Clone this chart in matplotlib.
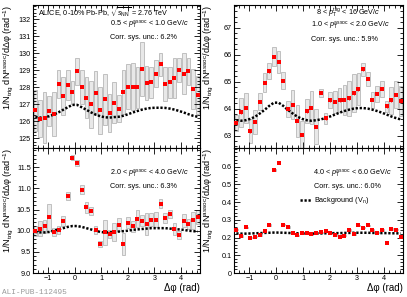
import numpy as np
import matplotlib
matplotlib.use("Agg")
import matplotlib.pyplot as plt
from matplotlib.patches import Rectangle
from matplotlib.ticker import MultipleLocator

plt.rcParams['font.family'] = ['Liberation Sans', 'DejaVu Sans']
plt.rcParams['mathtext.fontset'] = 'custom'
plt.rcParams['mathtext.rm'] = 'Liberation Sans'
plt.rcParams['mathtext.it'] = 'Liberation Sans:italic'
plt.rcParams['mathtext.bf'] = 'Liberation Sans:bold'

# 36 bins in delta phi, -pi/2 .. 3pi/2
nbins = 36
dphi = -np.pi / 2 + (np.arange(nbins) + 0.5) * 2 * np.pi / nbins

# top left: 0.5 < pT assoc < 1.0
tl_y = [126.65, 126.15, 126.2, 126.6, 126.45, 128.2, 127.5, 128.15, 127.7, 128.95,
        128.0, 127.4, 127.0, 127.65, 126.65, 127.3, 126.5, 127.1, 126.75, 127.75,
        128.05, 128.05, 128.0, 129.1, 128.25, 128.3, 128.8, 129.35, 128.2, 128.3,
        128.55, 129.0, 128.8, 128.95, 127.9, 127.55]
tl_sys = [1.2, 1.1, 1.5, 0.9, 1.3, 0.8, 1.1, 0.9, 0.7, 0.8, 1.0, 1.2, 1.4, 1.3, 1.4, 1.5,
          1.1, 1.2, 0.8, 1.3, 1.3, 1.4, 1.2, 1.6, 1.0, 0.9, 0.8, 0.7, 1.0, 0.9, 1.2, 0.7,
          1.2, 0.8, 1.2, 1.1]
tl_bkg = [126.25, 126.22, 126.24, 126.3, 126.4, 126.53, 126.68, 126.83, 126.97, 126.97,
          126.83, 126.68, 126.53, 126.4, 126.3, 126.24, 126.22, 126.25, 126.27, 126.33,
          126.42, 126.52, 126.61, 126.69, 126.75, 126.79, 126.8, 126.8, 126.79, 126.75,
          126.69, 126.61, 126.52, 126.42, 126.33, 126.27]

# top right: 1.0 < pT assoc < 2.0
tr_y = [63.47, 63.86, 64.02, 63.16, 63.5, 64.26, 64.96, 65.38, 65.93, 65.73,
        65.04, 64.0, 64.15, 63.55, 63.03, 63.9, 64.04, 63.32, 64.59, 63.64,
        64.31, 64.24, 64.31, 64.33, 64.38, 64.57, 64.72, 65.45, 65.1, 64.33,
        64.55, 64.73, 64.08, 64.31, 64.51, 64.27]
tr_sys = [0.3, 0.55, 0.55, 0.45, 0.45, 0.3, 0.35, 0.3, 0.35, 0.4, 0.3, 0.3, 0.55, 0.6,
          0.5, 0.45, 0.6, 0.65, 0.15, 0.2, 0.3, 0.4, 0.45, 0.55, 0.65, 0.7, 0.6, 0.25,
          0.25, 0.3, 0.3, 0.3, 0.2, 0.5, 0.5, 0.55]
tr_bkg = [63.57, 63.55, 63.57, 63.62, 63.7, 63.82, 63.95, 64.1, 64.22, 64.22,
          64.1, 63.95, 63.82, 63.7, 63.62, 63.57, 63.55, 63.57, 63.6, 63.65,
          63.71, 63.78, 63.85, 63.91, 63.96, 64.0, 64.02, 64.02, 64.0, 63.96,
          63.91, 63.85, 63.78, 63.71, 63.65, 63.6]

# bottom left: 2.0 < pT assoc < 4.0
bl_y = [10.0, 10.05, 10.1, 10.32, 9.97, 10.02, 10.23, 10.82, 11.72, 11.6,
        10.97, 10.55, 10.46, 10.02, 9.68, 9.96, 9.92, 9.97, 10.14, 9.69,
        10.19, 10.1, 10.28, 10.24, 10.16, 10.26, 10.26, 10.64, 10.3, 10.4,
        10.04, 9.9, 10.24, 10.15, 10.25, 10.33]
bl_sys = [0.12, 0.17, 0.15, 0.32, 0.1, 0.1, 0.12, 0.1, 0.06, 0.07, 0.1, 0.12, 0.1, 0.1,
          0.07, 0.3, 0.1, 0.22, 0.15, 0.26, 0.13, 0.12, 0.2, 0.13, 0.25, 0.15, 0.18, 0.1,
          0.12, 0.1, 0.15, 0.1, 0.15, 0.12, 0.2, 0.17]
bl_bkg = [9.97, 9.96, 9.96, 9.97, 10.0, 10.03, 10.06, 10.09, 10.11, 10.11,
          10.09, 10.06, 10.03, 10.0, 9.97, 9.96, 9.96, 9.97, 9.98, 9.99,
          10.0, 10.02, 10.03, 10.04, 10.05, 10.06, 10.06, 10.06, 10.06, 10.05,
          10.04, 10.03, 10.02, 10.0, 9.99, 9.98]

# bottom right: 4.0 < pT assoc < 6.0
br_y = [0.245, 0.208, 0.258, 0.2, 0.205, 0.215, 0.238, 0.27, 0.58, 0.62,
        0.273, 0.26, 0.225, 0.212, 0.228, 0.228, 0.22, 0.225, 0.23, 0.235,
        0.228, 0.215, 0.205, 0.21, 0.243, 0.218, 0.268, 0.255, 0.268, 0.242,
        0.228, 0.242, 0.172, 0.248, 0.245, 0.203]
br_sys = [0.004] * nbins
br_bkg = [0.223, 0.222, 0.222, 0.223, 0.224, 0.225, 0.226, 0.227, 0.228, 0.228,
          0.227, 0.226, 0.225, 0.224, 0.223, 0.222, 0.222, 0.223, 0.223, 0.224,
          0.224, 0.225, 0.225, 0.226, 0.226, 0.227, 0.227, 0.227, 0.227, 0.226,
          0.226, 0.225, 0.225, 0.224, 0.224, 0.223]

stat_err = [0.06, 0.05, 0.02, 0.003]

panels = [
    (tl_y, tl_sys, tl_bkg, (124.43, 132.85), 1, 0.2, stat_err[0]),
    (tr_y, tr_sys, tr_bkg, (62.54, 67.84), 1, 0.2, stat_err[1]),
    (bl_y, bl_sys, bl_bkg, (9.0, 11.955), 0.5, 0.1, stat_err[2]),
    (br_y, br_sys, br_bkg, (0.0, 0.705), 0.1, 0.02, stat_err[3]),
]

W, H = 407, 297
fig = plt.figure(figsize=(W / 100, H / 100), dpi=100)
boxes = [(33, 200, 5, 148), (234, 403, 5, 148), (33, 200, 148, 273), (234, 403, 148, 273)]
axes = []
for (l, r, t, b) in boxes:
    axes.append(fig.add_axes([l / W, 1 - b / H, (r - l) / W, (b - t) / H]))

ylab = '1/N$_{\\rm trig}$ dN$^{\\rm assoc}$/d\u0394\u03c6 (rad$^{-1}$)'
bw = 0.135
for i, (ax, (yv, sy, bk, ylim, maj, mnr, se)) in enumerate(zip(axes, panels)):
    for x, y, s in zip(dphi, yv, sy):
        ax.add_patch(Rectangle((x - bw / 2, y - s), bw, 2 * s, facecolor='#e8e8e8',
                               edgecolor='#b8b8b8', lw=0.6, zorder=1))
    ax.plot(dphi, bk, color='black', lw=1.8, dashes=(0.9, 0.7), zorder=2,
            label='Background (V$_{\\rm n}$)')
    ax.errorbar(dphi, yv, yerr=se, fmt='s', color='red', ms=3, mew=0, elinewidth=0.6,
                capsize=0, zorder=3)
    ax.set_xlim(-np.pi / 2, 3 * np.pi / 2)
    ax.set_ylim(*ylim)
    ax.xaxis.set_major_locator(MultipleLocator(1))
    ax.xaxis.set_minor_locator(MultipleLocator(0.2))
    ax.yaxis.set_major_locator(MultipleLocator(maj))
    ax.yaxis.set_minor_locator(MultipleLocator(mnr))
    ax.tick_params(which='both', direction='in', top=True, right=True, labelsize=5.2,
                   width=0.6, pad=1.5)
    ax.tick_params(which='major', length=4)
    ax.tick_params(which='minor', length=2)
    for sp in ax.spines.values():
        sp.set_linewidth(0.8)
    if i < 2:
        ax.tick_params(labelbottom=False)
    else:
        ax.set_xlabel('\u0394\u03c6 (rad)', loc='right', fontsize=7, labelpad=1)
    ax.set_ylabel(ylab, loc='top', fontsize=6.6)
    ax.yaxis.label.set_va('center')
    ax.yaxis.set_label_coords(-0.15 if i % 2 == 0 else -0.153, 1.0)
    if i == 3:
        ax.set_yticks([0, 0.1, 0.2, 0.3, 0.4, 0.5, 0.6])
        ax.set_yticklabels(['0', '0.1', '0.2', '0.3', '0.4', '0.5', '0.6'])

fs = 5.2
a = axes[0]
a.text(0.03, 0.951, 'ALICE, 0-10% Pb-Pb, $\\sqrt{s_{\\rm NN}}$ = 2.76 TeV', transform=a.transAxes,
       fontsize=fs, va='center')
a.text(0.461, 0.86, '0.5 < $p_{\\rm T}^{\\rm assoc}$ < 1.0 GeV/$c$', transform=a.transAxes,
       fontsize=fs, va='center')
a.text(0.461, 0.77, 'Corr. sys. unc.: 6.2%', transform=a.transAxes, fontsize=fs, va='center')
a = axes[1]
a.text(0.485, 0.945, '8 < $p_{\\rm T}^{\\rm trig}$ < 16 GeV/$c$', transform=a.transAxes,
       fontsize=fs, va='center')
a.text(0.456, 0.853, '1.0 < $p_{\\rm T}^{\\rm assoc}$ < 2.0 GeV/$c$', transform=a.transAxes,
       fontsize=fs, va='center')
a.text(0.456, 0.762, 'Corr. sys. unc.: 5.9%', transform=a.transAxes, fontsize=fs, va='center')
a = axes[2]
a.text(0.461, 0.792, '2.0 < $p_{\\rm T}^{\\rm assoc}$ < 4.0 GeV/$c$', transform=a.transAxes,
       fontsize=fs, va='center')
a.text(0.461, 0.688, 'Corr. sys. unc.: 6.3%', transform=a.transAxes, fontsize=fs, va='center')
a = axes[3]
a.text(0.467, 0.792, '4.0 < $p_{\\rm T}^{\\rm assoc}$ < 6.0 GeV/$c$', transform=a.transAxes,
       fontsize=fs, va='center')
a.text(0.473, 0.696, 'Corr. sys. unc.: 6.0%', transform=a.transAxes, fontsize=fs, va='center')
h, l = a.get_legend_handles_labels()
a.legend(h[:1], l[:1], loc='center left', bbox_to_anchor=(0.39, 0.576), frameon=False,
         fontsize=fs, handlelength=1.6, handletextpad=0.3, borderpad=0, borderaxespad=0)

fig.text(2 / W, 1 - 292 / H, 'ALI-PUB-112495', family='Liberation Mono', fontsize=5.6,
         color='#9a9a9a', va='center')

fig.savefig('out.png', dpi=100)
